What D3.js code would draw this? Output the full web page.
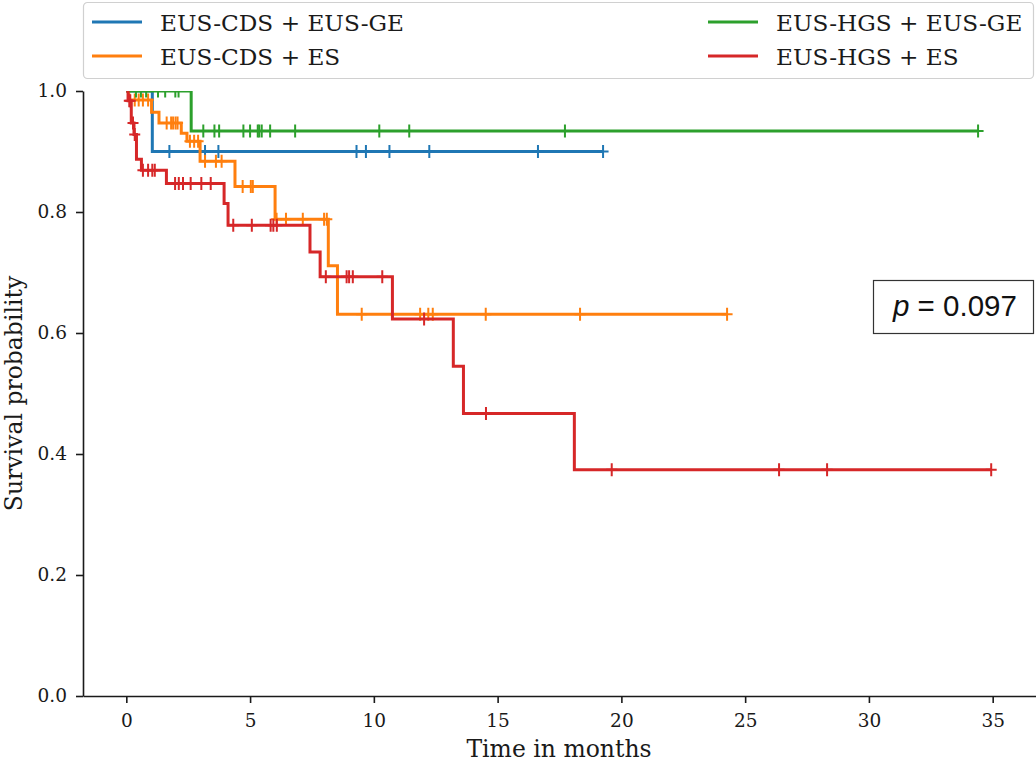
<!DOCTYPE html>
<html>
<head>
<meta charset="utf-8">
<script src="https://cdn.jsdelivr.net/npm/d3@7"></script>
<style>
  html, body { margin: 0; padding: 0; background: #fff; }
  svg { display: block; }
</style>
</head>
<body>
<svg id="chart" width="1036" height="765"></svg>
<script>
// ---- Data ----
const seriesNames = ["EUS-CDS + EUS-GE", "EUS-CDS + ES", "EUS-HGS + EUS-GE", "EUS-HGS + ES"];
const seriesColors = ["#1f77b4", "#ff7f0e", "#2ca02c", "#d62728"];

// step-function change points (time in months, survival after that time)
const blueTimes = [0, 1.05, 19.26];
const blueSurv  = [1.0, 0.900, 0.900];
const blueCensor = [1.74, 3.18, 3.72, 9.30, 9.68, 10.63, 12.24, 16.63, 19.26];

const orangeTimes = [0, 0.10, 1.02, 1.32, 2.22, 2.45, 2.98, 4.39, 6.01, 8.16, 8.53, 24.27];
const orangeSurv  = [1.0, 0.985, 0.965, 0.947, 0.930, 0.917, 0.884, 0.842, 0.788, 0.711, 0.631, 0.631];
const orangeCensor = [0.34, 0.50, 0.67, 0.88, 1.63, 1.81, 1.89, 1.99, 2.07, 2.57, 2.74, 2.90,
                      3.18, 3.62, 3.85, 4.70, 5.03, 5.11, 6.07, 6.45, 7.13, 7.99, 8.10,
                      9.51, 11.87, 12.20, 12.38, 14.52, 18.33, 24.27];

const greenTimes = [0, 2.62, 34.41];
const greenSurv  = [1.0, 0.934, 0.934];
const greenCensor = [0.39, 0.59, 0.80, 1.28, 1.57, 1.98, 2.11,
                     3.11, 3.56, 3.75, 4.73, 5.00, 5.31, 5.37, 5.47, 5.81, 6.82,
                     10.22, 11.43, 17.72, 34.41];

const redTimes = [0, 0.07, 0.20, 0.31, 0.41, 0.61, 1.62, 3.95, 4.11, 7.42, 7.83, 10.75, 13.21, 13.62, 18.10, 34.94];
const redSurv  = [1.0, 0.984, 0.947, 0.928, 0.887, 0.869, 0.847, 0.814, 0.778, 0.734, 0.693, 0.623, 0.545, 0.467, 0.374, 0.374];
const redCensor = [0.12, 0.16, 0.27, 0.34, 0.67, 0.88, 1.05, 1.15,
                   1.97, 2.12, 2.29, 2.60, 3.03, 3.41,
                   4.32, 5.07, 5.83, 5.94, 6.08,
                   8.06, 8.90, 9.00, 9.15, 10.34,
                   12.03, 14.53, 19.61, 26.37, 28.31, 34.94];

const xTicks = [0, 5, 10, 15, 20, 25, 30, 35];
const yTicks = [0.0, 0.2, 0.4, 0.6, 0.8, 1.0];
const xLabel = "Time in months";
const yLabel = "Survival probability";
const pText = "0.097";

// ---- Layout ----
const svg = d3.select("#chart");
const L = 83, R = 1036, T = 91, B = 696;
const x = d3.scaleLinear().domain([-1.75, 36.75]).range([L, R]);
const y = d3.scaleLinear().domain([0, 1]).range([B, T]);
const serif = "'DejaVu Serif', serif";

const series = [
  {times: blueTimes, surv: blueSurv, cens: blueCensor},
  {times: orangeTimes, surv: orangeSurv, cens: orangeCensor},
  {times: greenTimes, surv: greenSurv, cens: greenCensor},
  {times: redTimes, surv: redSurv, cens: redCensor}
];

svg.append("defs").append("clipPath").attr("id", "plotclip")
  .append("rect").attr("x", L).attr("y", T).attr("width", R - L).attr("height", B - T);

const plot = svg.append("g").attr("clip-path", "url(#plotclip)");
const line = d3.line().x(d => x(d[0])).y(d => y(d[1])).curve(d3.curveStepAfter);

function survAt(s, t) {
  let v = s.surv[0];
  for (let i = 0; i < s.times.length; i++) { if (s.times[i] <= t) v = s.surv[i]; }
  return v;
}

series.forEach((s, i) => {
  const pts = s.times.map((t, k) => [t, s.surv[k]]);
  const g = plot.append("g");
  g.append("path").attr("d", line(pts)).attr("fill", "none")
    .attr("stroke", seriesColors[i]).attr("stroke-width", 3);
  g.selectAll("path.cens").data(s.cens).join("path").attr("class", "cens")
    .attr("d", t => {
      const cx = x(t), cy = y(survAt(s, t));
      return `M${cx},${cy - 6.5}L${cx},${cy + 6.5}M${cx - 5.5},${cy}L${cx + 5.5},${cy}`;
    })
    .attr("stroke", seriesColors[i]).attr("stroke-width", 2).attr("fill", "none");
});

// ---- Axes ----
const yAxis = svg.append("g").attr("transform", `translate(${L},0)`)
  .call(d3.axisLeft(y).tickValues(yTicks).tickFormat(d3.format(".1f")).tickSize(7).tickSizeOuter(0).tickPadding(9));
const xAxis = svg.append("g").attr("transform", `translate(0,${B})`)
  .call(d3.axisBottom(x).tickValues(xTicks).tickFormat(d3.format("d")).tickSize(7).tickSizeOuter(0).tickPadding(11));
[yAxis, xAxis].forEach(a => {
  a.selectAll("path.domain").attr("stroke", "#1a1a1a").attr("stroke-width", 1.6);
  a.selectAll(".tick line").attr("stroke", "#1a1a1a").attr("stroke-width", 1.6);
  a.selectAll(".tick text").attr("font-family", serif).attr("font-size", 18.5).attr("fill", "#1a1a1a");
});

svg.append("text").attr("x", 559).attr("y", 757).attr("text-anchor", "middle")
  .attr("font-family", serif).attr("font-size", 23.5).attr("fill", "#1a1a1a").text(xLabel);
svg.append("text").attr("transform", `translate(22,${(T + B) / 2}) rotate(-90)`)
  .attr("text-anchor", "middle").attr("font-family", serif).attr("font-size", 23.5)
  .attr("fill", "#1a1a1a").text(yLabel);

// ---- Legend ----
const leg = svg.append("g");
leg.append("rect").attr("x", 83.5).attr("y", 2.5).attr("width", 950).attr("height", 76)
  .attr("rx", 4).attr("fill", "#fff").attr("fill-opacity", 0.8)
  .attr("stroke", "#d0d0d0").attr("stroke-width", 1.2);
const legPos = [[92, 22], [92, 56], [708, 22], [708, 56]];
seriesNames.forEach((name, i) => {
  const [lx, ly] = legPos[i];
  leg.append("line").attr("x1", lx).attr("x2", lx + 50).attr("y1", ly).attr("y2", ly)
    .attr("stroke", seriesColors[i]).attr("stroke-width", 3);
  leg.append("text").attr("x", lx + 68).attr("y", ly + 8.5)
    .attr("font-family", serif).attr("font-size", 23.2).attr("fill", "#1a1a1a").text(name);
});

// ---- p-value box ----
const pg = svg.append("g");
pg.append("rect").attr("x", 873.5).attr("y", 280.5).attr("width", 160).attr("height", 53)
  .attr("fill", "#fff").attr("stroke", "#333").attr("stroke-width", 1.2);
const pt = pg.append("text").attr("x", 893).attr("y", 316)
  .attr("font-family", "'Liberation Sans', Arial, sans-serif").attr("font-size", 29.5).attr("fill", "#111");
pt.append("tspan").attr("font-style", "italic").text("p");
pt.append("tspan").text(" = " + pText);
</script>
</body>
</html>
